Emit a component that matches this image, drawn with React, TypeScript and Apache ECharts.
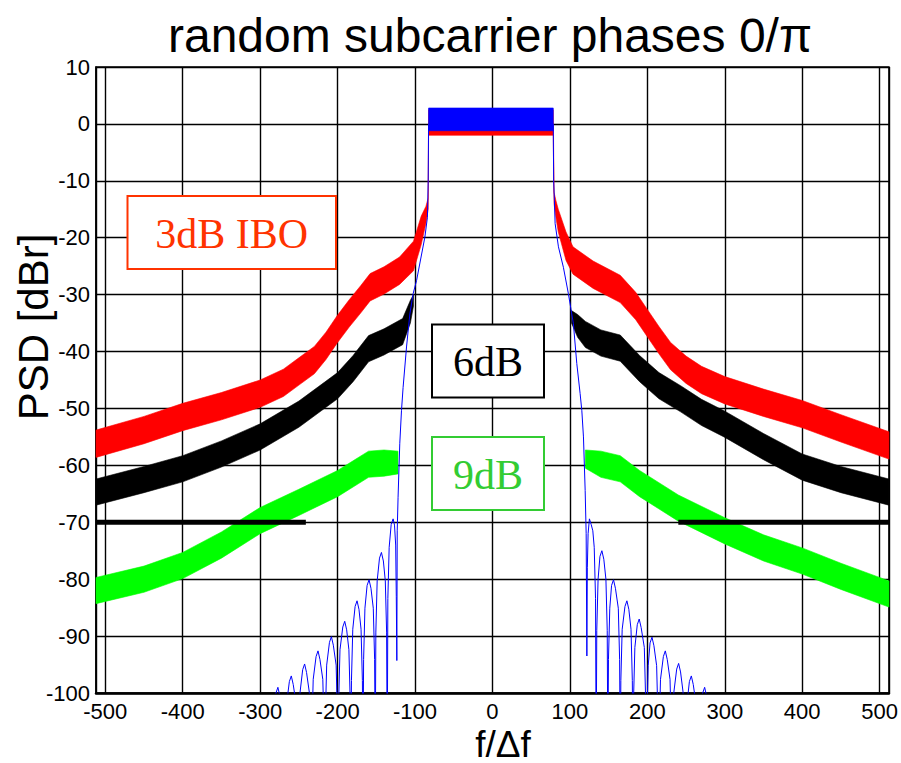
import { useEffect, useRef } from "react";
import * as echarts from "echarts";

const TITLE = "random subcarrier phases 0/π";
const X_NAME = "f/Δf";
const Y_NAME = "PSD [dBr]";
const LABEL_3 = "3dB IBO";
const LABEL_6 = "6dB";
const LABEL_9 = "9dB";

const X_MIN = -512;
const X_MAX = 512;
const Y_MIN = -100;
const Y_MAX = 10;
const Y_STEP = 10;

// 3dB IBO (red) – noise band, lower / upper envelope
const redF = [-512, -450, -400, -350, -300, -270, -250, -230, -215, -200, -185, -170, -158, -140, -120, -102, -92, -86, -83, -82.5, 78.5, 79.5, 82, 85, 95, 104, 130, 165, 185, 200, 215, 230, 250, 270, 300, 350, 400, 450, 512];
const redLo = [-58.6, -56.2, -53.9, -52, -49.8, -47.9, -45.9, -43.9, -41.4, -38.4, -35.7, -33.2, -31.1, -29.9, -28.2, -25.8, -21.2, -17.5, -15, -2, -2, -14, -16.5, -19, -24, -26.4, -28.9, -31.4, -34.4, -37.4, -40.4, -43.2, -45.6, -47.4, -49.2, -51.4, -53.4, -55.9, -58.9];
const redHi = [-53.8, -51.4, -49.1, -47.2, -45, -43.1, -41.1, -39.1, -36.6, -33.6, -30.9, -28.4, -26.3, -25.1, -23.4, -20.6, -16.2, -14.5, -13, 2.5, 2.5, -12, -13.5, -15, -19, -21.6, -24.1, -26.6, -29.6, -32.6, -35.6, -38.4, -40.8, -42.6, -44.4, -46.6, -48.6, -51.1, -54.1];

// 6dB (black)
const blackLF = [-512, -450, -400, -350, -300, -250, -225, -200, -180, -160, -140, -116, -106, -102];
const blackLLo = [-67, -64.8, -62.9, -60.3, -57.3, -53.3, -50.8, -48.3, -45.3, -41.8, -40.6, -38.8, -35, -32];
const blackLHi = [-62.4, -60.2, -58.3, -55.7, -52.7, -48.7, -46.2, -43.7, -40.7, -37.2, -36, -34.2, -31, -30];
const blackRF = [102, 110, 120, 140, 165, 190, 215, 243, 270, 299, 350, 400, 450, 512];
const blackRLo = [-35, -37.5, -39.3, -40.8, -41.7, -45.3, -48.3, -50.6, -53, -55, -59, -62.6, -64.8, -67];
const blackRHi = [-32.8, -33.5, -34.7, -36.2, -37.1, -40.7, -43.7, -46, -48.4, -50.4, -54.4, -58, -60.2, -62.4];

// 9dB (green)
const greenLF = [-512, -450, -400, -350, -300, -250, -200, -180, -160, -140, -122];
const greenLLo = [-84.3, -82.3, -79.9, -76.3, -72, -68.8, -65.5, -63.8, -62.1, -61.9, -61.5];
const greenLHi = [-79.7, -77.7, -75.3, -71.7, -67.4, -64.2, -60.9, -59.2, -57.5, -57.3, -57.5];
const greenRF = [120, 140, 165, 190, 240, 300, 350, 400, 450, 512];
const greenRLo = [-60.5, -62.1, -62.9, -65.5, -69.8, -73.8, -76.8, -79.1, -81.8, -84.9];
const greenRHi = [-57.3, -57.5, -58.3, -60.9, -65.2, -69.2, -72.2, -74.5, -77.2, -80.3];

// linear (blue): flat in-band noise band + edge/sidelobe traces
const blueTopF = [-82.5, 78.5];
const blueTopLo = [-1.2, -1.2];
const blueTopHi = [2.8, 2.8];

const blueLeft: [number, number][] = [
  [-290, -112],
  [-284, -112], [-283.2, -113], [-281.5, -104], [-279.6, -100], [-277.1, -99], [-274.6, -100.5], [-271, -104], [-269.3, -113],
  [-268.5, -112], [-267.7, -111], [-266, -102], [-262.3, -98], [-259.8, -97], [-257.3, -98.5], [-253.5, -102], [-251.8, -111],
  [-251, -112], [-250.2, -108.9], [-248.5, -99.9], [-245.1, -95.9], [-242.6, -94.9], [-240.1, -96.4], [-236.5, -99.9], [-234.8, -108.9],
  [-234, -112], [-233.2, -106.6], [-231.5, -97.6], [-227.8, -93.6], [-225.3, -92.6], [-222.8, -94.1], [-219.1, -97.6], [-217.4, -106.6],
  [-216.6, -112], [-215.8, -104.1], [-214.1, -95.1], [-210.5, -91.1], [-208, -90.1], [-205.5, -91.6], [-201.9, -95.1], [-200.2, -104.1],
  [-199.4, -112], [-198.6, -101.4], [-196.9, -92.4], [-193.3, -88.4], [-190.8, -87.4], [-188.3, -88.9], [-185.4, -92.4], [-183.7, -101.4],
  [-182.9, -112], [-182.1, -97.8], [-180.4, -88.8], [-177.4, -84.8], [-174.9, -83.8], [-172.4, -85.3], [-169.7, -88.8], [-168, -97.8],
  [-167.2, -112], [-166.4, -94.1], [-164.7, -85.1], [-161.9, -81.1], [-159.4, -80.1], [-156.9, -81.6], [-153.9, -85.1], [-152.2, -94.1],
  [-151.4, -112], [-150.6, -89.3], [-148.9, -80.3], [-145.9, -76.3], [-143.4, -75.3], [-140.9, -76.8], [-138.4, -80.3], [-136.7, -89.3],
  [-135.9, -112], [-135.1, -83.4], [-133.4, -74.4], [-130.8, -70.4], [-128.3, -69.4], [-126.5, -70.5], [-125, -74], [-124.2, -83],
  [-123.5, -94.3], [-123, -71.5], [-121.9, -65.6], [-119.7, -56.2], [-117.5, -50.4], [-115.4, -46.3],
  [-111, -39.2], [-106.7, -33.4], [-102.4, -29.8], [-98, -27.5], [-87.3, -19.9], [-84, -16.4], [-83, -10], [-82.5, 0],
];

const blueRight: [number, number][] = [
  [78.5, 0], [79, -10], [80, -13.5], [80.9, -17.5], [85.2, -21.6], [91.6, -25.2], [98, -29.8],
  [104.5, -35.1], [108.9, -42.1], [113.2, -47.4], [115.4, -50.4], [117.5, -55], [119.7, -64.4], [121, -72], [121.9, -93.5],
  [122.5, -78], [123.5, -72], [125.2, -69.4], [127.5, -70.4], [129.6, -71.5], [131.4, -74.4], [133.1, -83.4],
  [133.9, -112], [134.7, -89], [136.4, -80], [138.8, -76], [141.3, -75], [143.8, -76.5], [146.5, -80], [148.2, -89],
  [149, -112], [149.8, -94.1], [151.5, -85.1], [153.8, -81.1], [156.3, -80.1], [158.8, -81.6], [162.5, -85.1], [164.2, -94.1],
  [165, -112], [165.8, -97.8], [167.5, -88.8], [171.1, -84.8], [173.6, -83.8], [176.1, -85.3], [178.9, -88.8], [180.6, -97.8],
  [181.4, -112], [182.2, -101], [183.9, -92], [187, -88], [189.5, -87], [192, -88.5], [196.1, -92], [197.8, -101],
  [198.6, -112], [199.4, -104.2], [201.1, -95.2], [203.5, -91.2], [206, -90.2], [208.5, -91.7], [212, -95.2], [213.7, -104.2],
  [214.5, -112], [215.3, -106.6], [217, -97.6], [220.7, -93.6], [223.2, -92.6], [225.7, -94.1], [229.3, -97.6], [231, -106.6],
  [231.8, -112], [232.6, -108.8], [234.3, -99.8], [237.9, -95.8], [240.4, -94.8], [242.9, -96.3], [246.1, -99.8], [247.8, -108.8],
  [248.6, -112], [249.4, -111], [251.1, -102], [254.3, -98], [256.8, -97], [259.3, -98.5], [262.9, -102], [264.6, -111],
  [265.4, -112], [266.2, -113], [267.9, -104], [271.5, -100], [274, -99], [276.5, -100.5], [278.5, -104], [280.2, -113],
  [281, -112], [290, -112],
];

// -70 dBr limit lines
const limitLevel = -70;
const limitLeft = [-512, -241];
const limitRight = [240, 512];

const SANS = '"Liberation Sans", Arial, Helvetica, sans-serif';
const SERIF = '"Liberation Serif", "Times New Roman", serif';

function bandSeries(xs: number[], lo: number[], hi: number[], color: string, z: number) {
  return {
    type: "custom",
    coordinateSystem: "cartesian2d",
    silent: true,
    z,
    data: [[xs[0], lo[0]]],
    renderItem: (_params: any, api: any) => {
      const pts: number[][] = [];
      for (let i = 0; i < xs.length; i++) pts.push(api.coord([xs[i], hi[i]]));
      for (let i = xs.length - 1; i >= 0; i--) pts.push(api.coord([xs[i], lo[i]]));
      return {
        type: "polygon",
        shape: { points: pts },
        style: { fill: color, stroke: color, lineWidth: 0.6 },
      };
    },
  };
}

function lineSeries(data: number[][], color: string, width: number, z: number) {
  return {
    type: "line",
    data,
    symbol: "none",
    silent: true,
    clip: true,
    z,
    lineStyle: { color, width },
  };
}

function boxGraphics(x: number, y: number, w: number, h: number, text: string, color: string) {
  return [
    {
      type: "rect",
      z: 100,
      shape: { x, y, width: w, height: h },
      style: { fill: "#ffffff", stroke: color, lineWidth: 2 },
    },
    {
      type: "text",
      z: 101,
      x: x + w / 2,
      y: y + h / 2 + 1,
      style: {
        text,
        fill: color,
        fontSize: 42,
        fontFamily: SERIF,
        textAlign: "center",
        textVerticalAlign: "middle",
        align: "center",
        verticalAlign: "middle",
      },
    },
  ];
}

export default function App() {
  const ref = useRef<HTMLDivElement>(null);

  useEffect(() => {
    if (!ref.current) return;
    const chart = echarts.init(ref.current, null, { renderer: "svg" });
    const axisLabel = { color: "#000", fontSize: 22, fontFamily: SANS };
    chart.setOption({
      animation: false,
      backgroundColor: "#ffffff",
      grid: { left: 96, right: 12, top: 67, bottom: 70, show: true, borderColor: "#000", borderWidth: 1.5 },
      xAxis: {
        type: "value",
        min: X_MIN,
        max: X_MAX,
        splitNumber: 10,
        axisLine: { show: true, onZero: false, lineStyle: { color: "#000", width: 2.5 } },
        axisTick: { show: false },
        axisLabel: { ...axisLabel, margin: 7, showMinLabel: false, showMaxLabel: false },
        splitLine: { show: true, lineStyle: { color: "#000", width: 1.4 } },
      },
      yAxis: {
        type: "value",
        min: Y_MIN,
        max: Y_MAX,
        interval: Y_STEP,
        axisLine: { show: true, onZero: false, lineStyle: { color: "#000", width: 1.5 } },
        axisTick: { show: false },
        axisLabel: { ...axisLabel, margin: 6 },
        splitLine: { show: true, lineStyle: { color: "#000", width: 1.4 } },
      },
      series: [
        bandSeries(redF, redLo, redHi, "#ff0000", 2),
        bandSeries(blackLF, blackLLo, blackLHi, "#000000", 3),
        bandSeries(blackRF, blackRLo, blackRHi, "#000000", 3),
        bandSeries(greenLF, greenLLo, greenLHi, "#00ff00", 4),
        bandSeries(greenRF, greenRLo, greenRHi, "#00ff00", 4),
        lineSeries(limitLeft.map((f) => [f, limitLevel]), "#000000", 5, 5),
        lineSeries(limitRight.map((f) => [f, limitLevel]), "#000000", 5, 5),
        bandSeries(blueTopF, blueTopLo, blueTopHi, "#0000ff", 6),
        lineSeries(blueLeft, "#0000ff", 1, 6),
        lineSeries(blueRight, "#0000ff", 1, 6),
      ],
      graphic: [
        {
          type: "text",
          z: 100,
          x: 490,
          y: 35,
          style: {
            text: TITLE,
            fill: "#000",
            fontSize: 48,
            fontFamily: SANS,
            textAlign: "center",
            textVerticalAlign: "middle",
            align: "center",
            verticalAlign: "middle",
          },
        },
        {
          type: "text",
          z: 100,
          x: 33,
          y: 327,
          rotation: Math.PI / 2,
          style: {
            text: Y_NAME,
            fill: "#000",
            fontSize: 42,
            fontFamily: SANS,
            textAlign: "center",
            textVerticalAlign: "middle",
            align: "center",
            verticalAlign: "middle",
          },
        },
        {
          type: "text",
          z: 100,
          x: 503,
          y: 744,
          style: {
            text: X_NAME,
            fill: "#000",
            fontSize: 37,
            fontFamily: SANS,
            textAlign: "center",
            textVerticalAlign: "middle",
            align: "center",
            verticalAlign: "middle",
          },
        },
        ...boxGraphics(127.5, 196, 208.5, 73, LABEL_3, "#ff3300"),
        ...boxGraphics(432, 324.5, 112, 73, LABEL_6, "#000000"),
        ...boxGraphics(432, 437, 112, 73, LABEL_9, "#33cc33"),
      ],
    });
    return () => chart.dispose();
  }, []);

  return (
    <div
      ref={ref}
      style={{ position: "absolute", left: 0, top: 0, width: 901, height: 763, background: "#fff" }}
    />
  );
}
